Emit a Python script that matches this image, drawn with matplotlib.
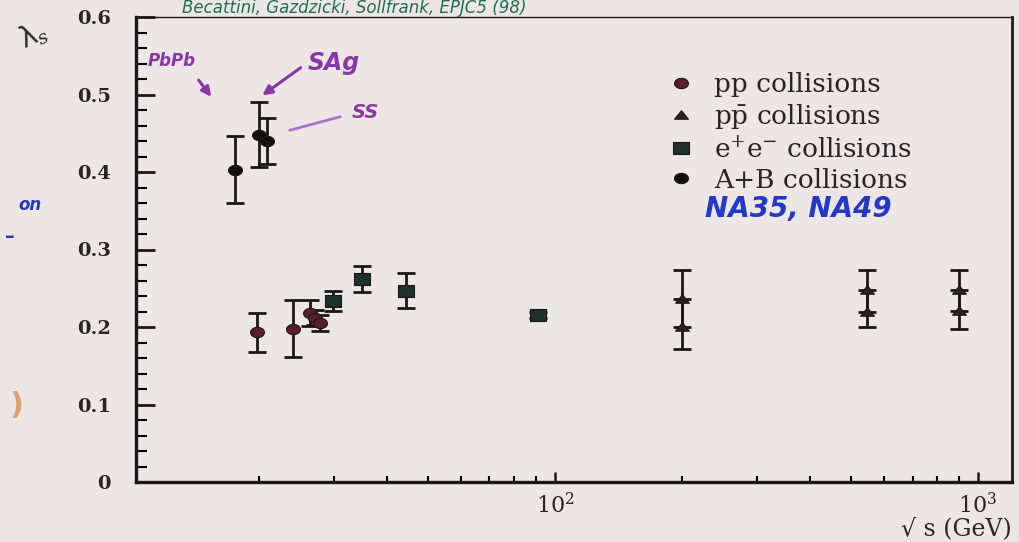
import numpy as np
import matplotlib
matplotlib.use("Agg")
import matplotlib.pyplot as plt
from matplotlib.lines import Line2D
from matplotlib.path import Path
from matplotlib.ticker import FixedLocator, LogLocator, FuncFormatter, MultipleLocator, NullFormatter

# ---------------- data: strangeness suppression factor lambda_s vs sqrt(s) ----------------
pp_sqrt_s = [19.7, 24.0, 26.4, 27.1, 27.8]
pp_lambda = [0.193, 0.198, 0.218, 0.212, 0.205]
pp_err_lo = [0.025, 0.037, 0.017, 0.010, 0.010]
pp_err_hi = [0.025, 0.037, 0.017, 0.010, 0.010]

ppbar_sqrt_s = [200, 200, 546, 546, 900, 900]
ppbar_lambda = [0.236, 0.200, 0.248, 0.220, 0.248, 0.221]
ppbar_err_lo = [0.036, 0.028, 0.028, 0.020, 0.027, 0.023]
ppbar_err_hi = [0.037, 0.036, 0.025, 0.028, 0.025, 0.027]

ee_sqrt_s = [29.8, 35.0, 44.5, 91.2]
ee_lambda = [0.234, 0.262, 0.247, 0.216]
ee_err_lo = [0.013, 0.017, 0.023, 0.004]
ee_err_hi = [0.013, 0.017, 0.023, 0.004]

ab_sqrt_s = [17.5, 20.0, 20.8]
ab_lambda = [0.403, 0.448, 0.440]
ab_err_lo = [0.043, 0.042, 0.030]
ab_err_hi = [0.043, 0.042, 0.030]

legend_labels = ["pp collisions", r"p$\bar{\mathrm{p}}$ collisions",
                 r"e$^{+}$e$^{-}$ collisions", "A+B collisions"]
x_ticks = [100, 1000]
y_ticks = [0, 0.1, 0.2, 0.3, 0.4, 0.5, 0.6]

# ---------------- style ----------------
BG = "#ece7e5"
INK = "#1c1717"
C_PP = "#5a1e27"
C_PPBAR = "#2a2222"
C_EE = "#1d302b"
C_AB = "#141010"
PURPLE = "#8a36a8"
GREEN = "#1f6e55"
BLUE = "#2438c8"

plt.rcParams["mathtext.fontset"] = "dejavuserif"
SERIF = "DejaVu Serif"
HAND = "DejaVu Sans"

# stretched marker shapes
t = np.linspace(0, 2 * np.pi, 41)
ellipse = Path(np.column_stack([1.35 * np.cos(t), np.sin(t)]), closed=True)
rect = Path([(-1.5, -1.0), (1.5, -1.0), (1.5, 1.0), (-1.5, 1.0), (-1.5, -1.0)], closed=True)
tri = Path([(-1.4, -0.75), (1.4, -0.75), (0.0, 0.95), (-1.4, -0.75)], closed=True)

W, H = 1020, 542
fig = plt.figure(figsize=(W / 100, H / 100), dpi=100, facecolor=BG)
ax = fig.add_axes([136 / W, 1 - 482 / H, (1012 - 136) / W, (482 - 17) / H])
ax.set_facecolor(BG)

ax.set_xscale("log")
ax.set_xlim(10.22, 1203)
ax.set_ylim(0, 0.6)

eb = dict(fmt="none", ecolor=INK, elinewidth=2.0, capsize=6.5, capthick=2.0, zorder=2)
series = [
    (pp_sqrt_s, pp_lambda, pp_err_lo, pp_err_hi, ellipse, C_PP, 10),
    (ppbar_sqrt_s, ppbar_lambda, ppbar_err_lo, ppbar_err_hi, tri, C_PPBAR, 10),
    (ee_sqrt_s, ee_lambda, ee_err_lo, ee_err_hi, rect, C_EE, 12),
    (ab_sqrt_s, ab_lambda, ab_err_lo, ab_err_hi, ellipse, C_AB, 10),
]
handles = []
for xs, ys, elo, ehi, mk, col, ms in series:
    ax.errorbar(xs, ys, yerr=[elo, ehi], **eb)
    ax.plot(xs, ys, ls="none", marker=mk, ms=ms, color=col, mec=INK, mew=0.8, zorder=3)
    handles.append(Line2D([], [], ls="none", marker=mk, ms=ms, color=col, mec=INK, mew=0.8))

# spines
for side, lw in [("left", 2.4), ("bottom", 2.4), ("right", 2.0), ("top", 1.0)]:
    ax.spines[side].set_linewidth(lw)
    ax.spines[side].set_color(INK)

# ticks
ax.xaxis.set_major_locator(FixedLocator(x_ticks))
ax.xaxis.set_minor_locator(LogLocator(base=10, subs=np.arange(2, 10)))
ax.xaxis.set_minor_formatter(NullFormatter())
ax.xaxis.set_major_formatter(FuncFormatter(lambda v, p: r"$10^{%d}$" % round(np.log10(v))))
ax.yaxis.set_major_locator(FixedLocator(y_ticks))
ax.yaxis.set_minor_locator(MultipleLocator(0.02))
ax.yaxis.set_major_formatter(FuncFormatter(lambda v, p: "0" if v == 0 else f"{v:.1f}"))

ax.tick_params(axis="x", which="major", direction="in", length=7, width=1.8,
               labelsize=16, pad=8, colors=INK, top=False)
ax.tick_params(axis="x", which="minor", direction="in", length=4, width=1.5, top=False)
ax.tick_params(axis="y", which="major", direction="in", length=14, width=2.0,
               labelsize=14, pad=18, colors=INK, right=False)
ax.tick_params(axis="y", which="minor", direction="in", length=8, width=1.5, right=False)
for lab in ax.get_xticklabels() + ax.get_yticklabels():
    lab.set_fontfamily(SERIF)
    lab.set_fontweight("bold")
    lab.set_color("#2a2424")

ax.set_xlabel("√ s (GeV)", loc="right", fontsize=17, fontfamily=SERIF, color="#2a2424")
ax.xaxis.set_label_coords(1.0, -0.075)

# legend
leg = ax.legend(handles, legend_labels, loc="upper left", bbox_to_anchor=(668 / W, 1 - 72 / H),
                bbox_transform=fig.transFigure, frameon=False, handlelength=1.0,
                handletextpad=0.75, labelspacing=0.2, borderpad=0, borderaxespad=0,
                prop={"family": SERIF, "size": 19})
for txt in leg.get_texts():
    txt.set_color("#2a2424")

# handwritten notes
fig.text(705 / W, 1 - 209 / H, "NA35, NA49", color=BLUE, fontsize=20, fontweight="bold",
         fontstyle="italic", family=HAND, va="center", ha="left")
fig.text(182 / W, 1 - 13 / H, "Becattini, Gazdzicki, Sollfrank, EPJC5 (98)", color=GREEN,
         fontsize=12, fontstyle="italic", family=HAND, va="baseline", ha="left")
ax.set_ylabel("λ$_s$", rotation=25, fontsize=20, color="#2a2a2a", family=HAND)
ax.yaxis.set_label_coords(-0.11, 0.93)

fig.text(148 / W, 1 - 61 / H, "PbPb", color=PURPLE, fontsize=12, fontweight="bold",
         fontstyle="italic", family=HAND, va="center", ha="left")
fig.text(308 / W, 1 - 63 / H, "SAg", color=PURPLE, fontsize=17, fontweight="bold",
         fontstyle="italic", family=HAND, va="center", ha="left")
fig.text(352 / W, 1 - 112 / H, "SS", color=PURPLE, fontsize=14, fontweight="bold",
         fontstyle="italic", family=HAND, va="center", ha="left")
arrow = dict(arrowstyle="-|>", color=PURPLE, lw=2.2, mutation_scale=14)
ax.annotate("", xy=(213 / W, 1 - 99 / H), xytext=(197 / W, 1 - 78 / H),
            xycoords="figure fraction", textcoords="figure fraction", arrowprops=arrow)
ax.annotate("", xy=(260 / W, 1 - 97 / H), xytext=(303 / W, 1 - 66 / H),
            xycoords="figure fraction", textcoords="figure fraction", arrowprops=arrow)
ax.annotate("", xy=(287 / W, 1 - 131 / H), xytext=(343 / W, 1 - 116 / H),
            xycoords="figure fraction", textcoords="figure fraction",
            arrowprops=dict(arrowstyle="-", color="#b070d0", lw=2.0))

fig.text(18 / W, 1 - 205 / H, "on", color=BLUE, fontsize=12, fontweight="bold",
         fontstyle="italic", family=HAND, va="center", ha="left")
fig.text(5 / W, 1 - 236 / H, "–", color=BLUE, fontsize=14, fontweight="bold",
         family=HAND, va="center", ha="left")
fig.text(10 / W, 1 - 405 / H, ")", color="#e0a070", fontsize=22, fontweight="bold",
         family=HAND, va="center", ha="left")

fig.savefig("out.png", dpi=100, facecolor=BG)
